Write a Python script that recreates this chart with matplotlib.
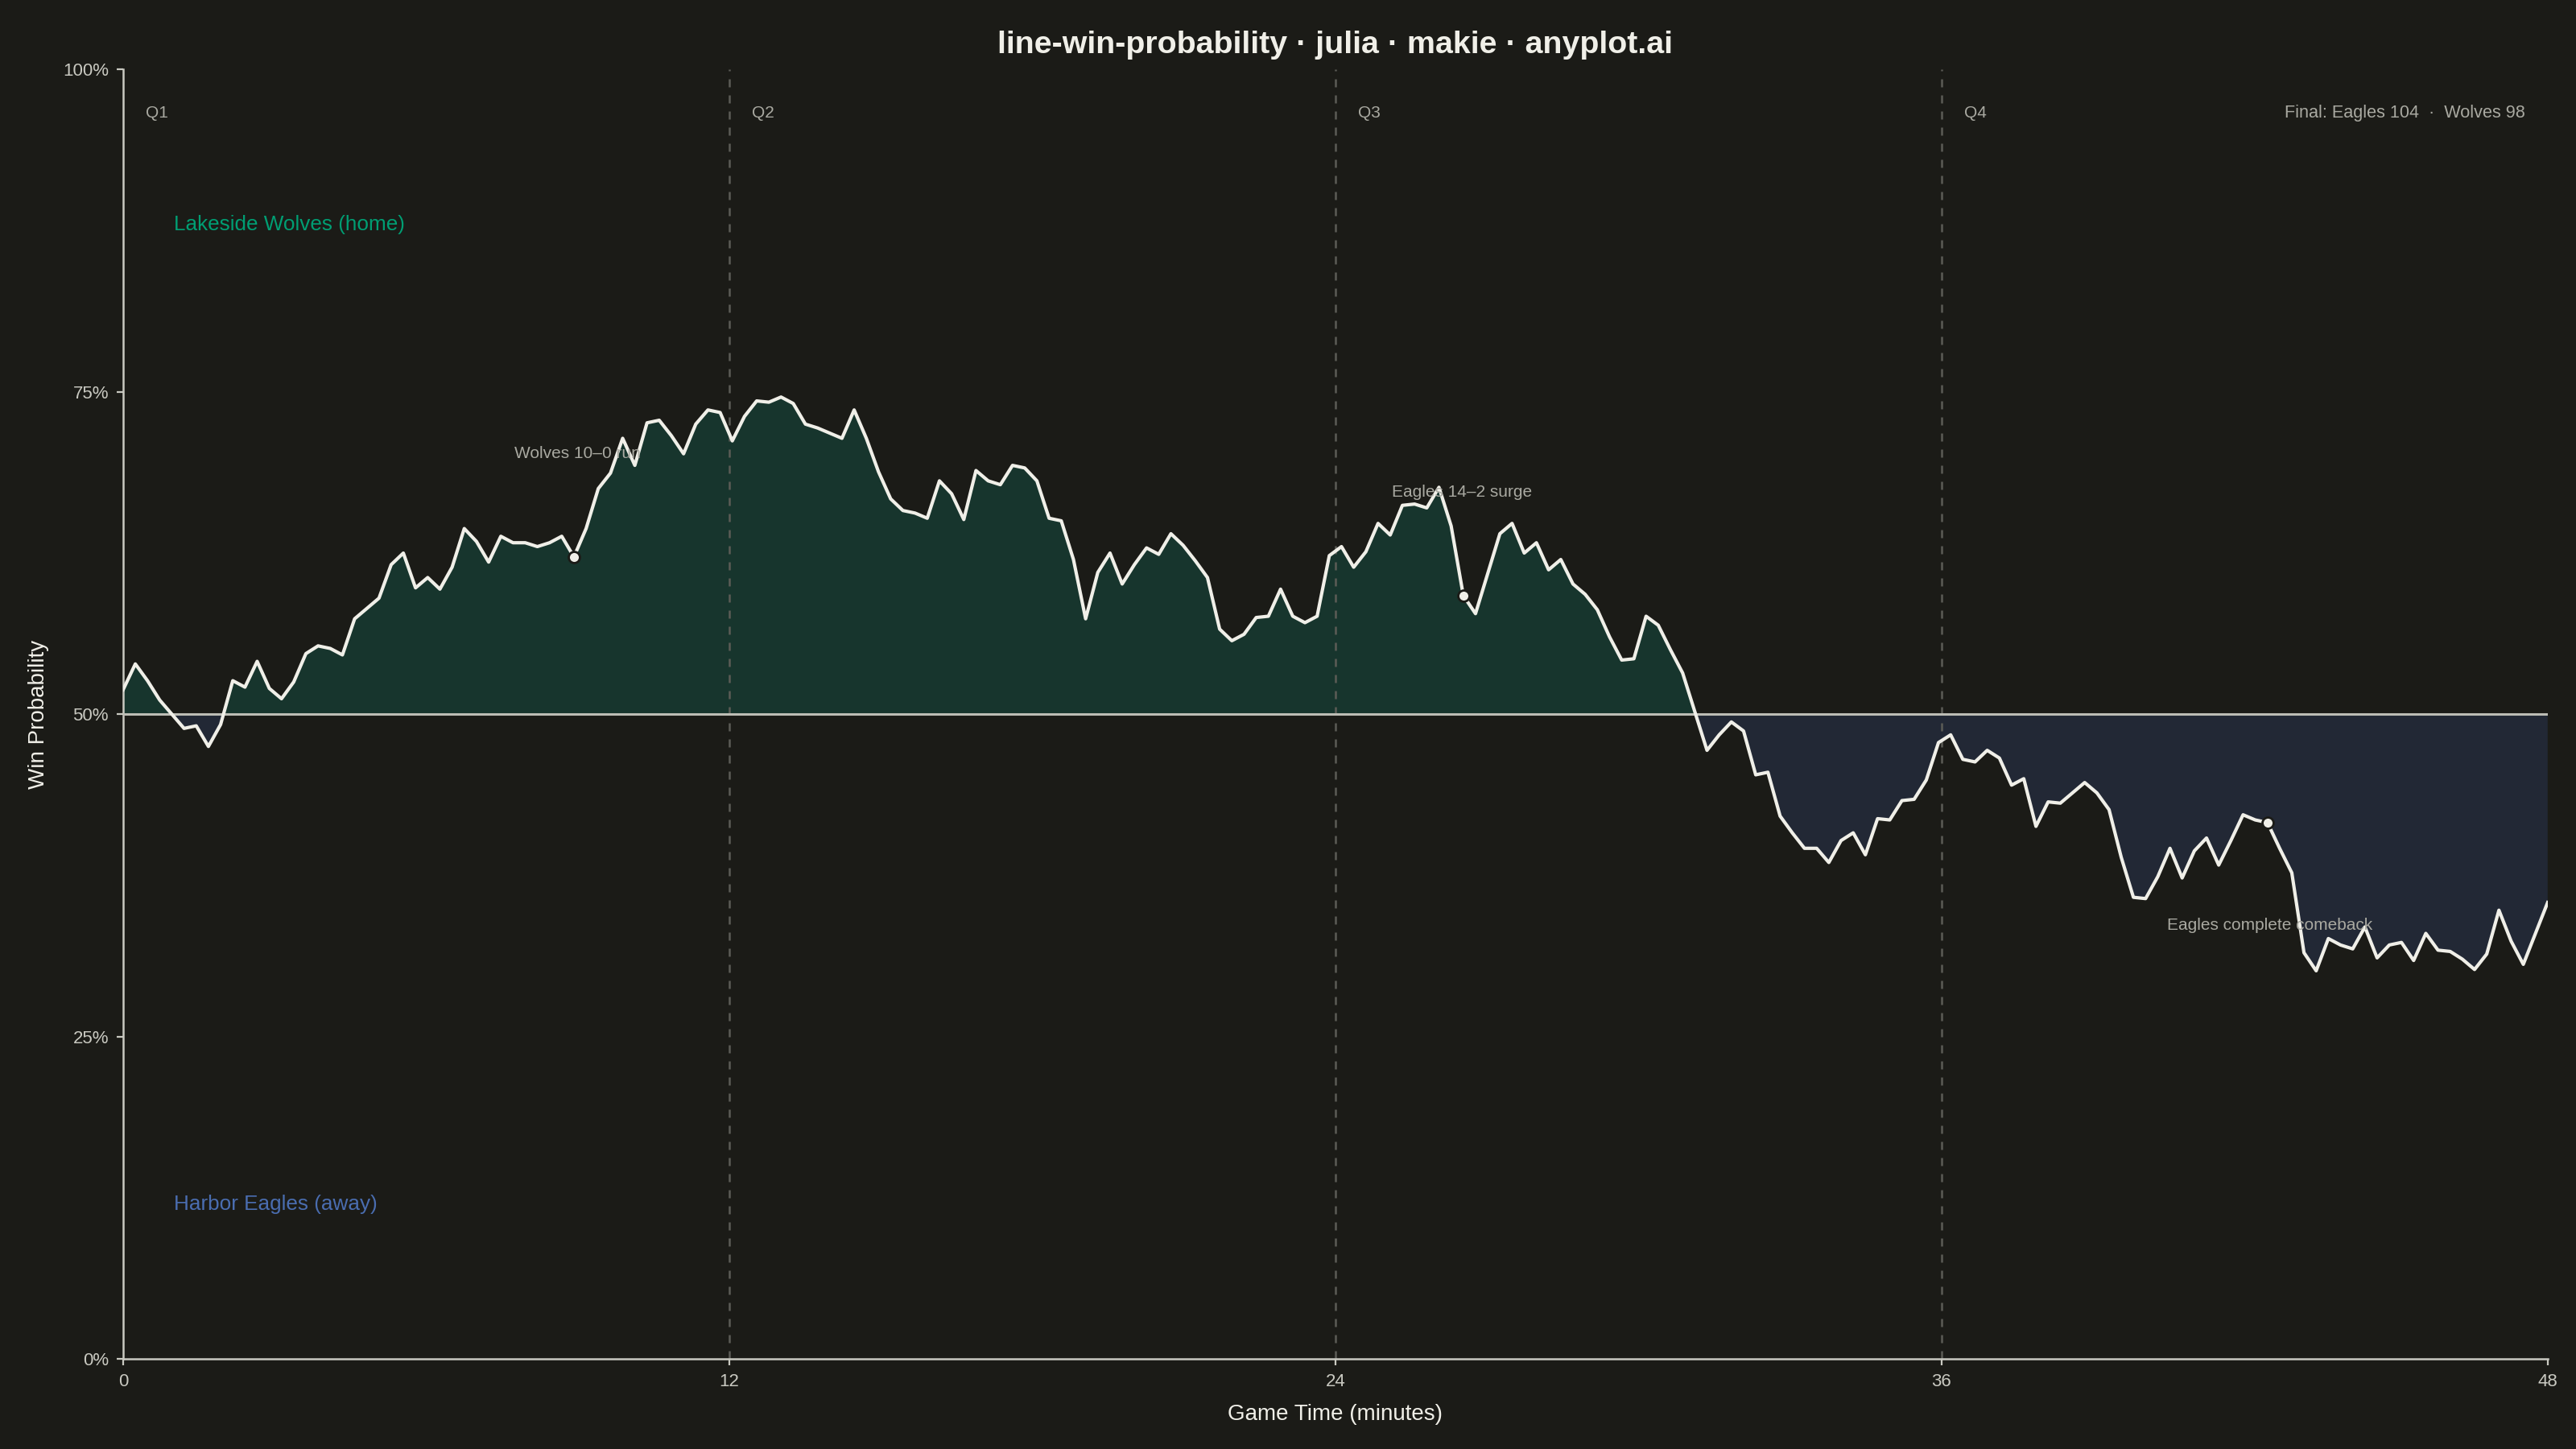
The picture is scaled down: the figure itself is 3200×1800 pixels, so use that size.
import numpy as np
import matplotlib
matplotlib.use("Agg")
import matplotlib.pyplot as plt

# win probability for the home side (Lakeside Wolves), 200 samples over 48 minutes
game_minutes = np.linspace(0, 48, 200)
home_wp = [
    51.9, 53.9, 52.6, 51.1, 50.0, 48.9, 49.1, 47.5, 49.2, 52.6,
    52.1, 54.1, 52.0, 51.2, 52.5, 54.7, 55.3, 55.1, 54.6, 57.4,
    58.2, 59.0, 61.6, 62.5, 59.8, 60.6, 59.7, 61.4, 64.4, 63.4,
    61.8, 63.8, 63.3, 63.3, 63.0, 63.3, 63.8, 62.2, 64.4, 67.5,
    68.7, 71.4, 69.3, 72.6, 72.8, 71.6, 70.2, 72.5, 73.6, 73.4,
    71.2, 73.1, 74.3, 74.2, 74.6, 74.1, 72.5, 72.2, 71.8, 71.4,
    73.6, 71.4, 68.8, 66.7, 65.8, 65.6, 65.2, 68.1, 67.1, 65.1,
    68.9, 68.1, 67.8, 69.3, 69.1, 68.1, 65.2, 65.0, 62.0, 57.4,
    61.0, 62.5, 60.1, 61.6, 62.9, 62.4, 64.0, 63.1, 61.9, 60.6,
    56.6, 55.7, 56.2, 57.5, 57.6, 59.7, 57.6, 57.1, 57.6, 62.3,
    63.0, 61.4, 62.6, 64.8, 63.9, 66.2, 66.3, 66.0, 67.6, 64.6,
    59.2, 57.8, 60.9, 64.0, 64.8, 62.5, 63.3, 61.2, 62.0, 60.1,
    59.3, 58.1, 56.0, 54.2, 54.3, 57.6, 56.9, 55.0, 53.2, 50.2,
    47.2, 48.4, 49.4, 48.7, 45.3, 45.5, 42.1, 40.8, 39.6, 39.6,
    38.5, 40.2, 40.8, 39.1, 41.9, 41.8, 43.3, 43.4, 44.9, 47.8,
    48.4, 46.5, 46.3, 47.2, 46.6, 44.5, 45.0, 41.3, 43.2, 43.1,
    43.9, 44.7, 43.9, 42.6, 38.9, 35.8, 35.7, 37.4, 39.6, 37.3,
    39.4, 40.4, 38.3, 40.2, 42.2, 41.8, 41.6, 39.6, 37.7, 31.5,
    30.1, 32.6, 32.1, 31.8, 33.5, 31.1, 32.1, 32.3, 30.9, 33.0,
    31.7, 31.6, 31.0, 30.2, 31.4, 34.8, 32.4, 30.6, 33.0, 35.4,
]
home_wp = np.array(home_wp)

# key moments
event_minutes = [9.0, 26.5, 42.5]
event_labels = ["Wolves 10\u20130 run", "Eagles 14\u20132 surge", "Eagles complete comeback"]
event_offsets = [8, 8, -8]

quarter_starts = [0, 12, 24, 36]
quarter_labels = ["Q1", "Q2", "Q3", "Q4"]

# colours
bg = "#1b1b17"
ink = "#f0efe8"
soft = "#a9a9a1"
axis_col = "#c9c9c1"
home_col = "#009e73"
away_col = "#4a6db0"
home_fill = "#17352d"
away_fill = "#222835"

plt.rcParams["font.family"] = ["Liberation Sans", "DejaVu Sans"]

fig = plt.figure(figsize=(16, 9), dpi=200, facecolor=bg)
ax_box = [0.0478, 0.0622, 0.9412, 0.8898]
ax = fig.add_axes(ax_box)
ax.set_facecolor(bg)

# shaded areas above / below the 50% line
ax.fill_between(game_minutes, 50, home_wp, where=home_wp >= 50, interpolate=True,
                color=home_fill, lw=0, zorder=1)
ax.fill_between(game_minutes, 50, home_wp, where=home_wp <= 50, interpolate=True,
                color=away_fill, lw=0, zorder=1)

# quarter dividers
for q in quarter_starts[1:]:
    ax.axvline(q, color="#5c5c56", lw=0.9, ls=(0, (4, 4)), zorder=2)

# even-odds line
ax.axhline(50, color="#bdbdb5", lw=1.1, zorder=3)

# probability line
ax.plot(game_minutes, home_wp, color=ink, lw=1.5, zorder=4)

# key moment markers + notes
for t, lab, off in zip(event_minutes, event_labels, event_offsets):
    idx = int(np.argmin(np.abs(game_minutes - t)))
    ax.plot(game_minutes[idx], home_wp[idx], "o", ms=5, mfc=ink, mec=bg, mew=1.0, zorder=5)
    ax.text(t, home_wp[idx] + off, lab, color=soft, fontsize=7.5, ha="center", va="center", zorder=6)

# quarter labels
for q, lab in zip(quarter_starts, quarter_labels):
    ax.text(q + 0.45, 96.6, lab, color=soft, fontsize=7.5, ha="left", va="center")

ax.text(47.55, 96.6, "Final: Eagles 104  \u00b7  Wolves 98", color=soft, fontsize=7.8,
        ha="right", va="center")

# team labels
ax.text(1.0, 88, "Lakeside Wolves (home)", color=home_col, fontsize=9.4, ha="left", va="center")
ax.text(1.0, 12, "Harbor Eagles (away)", color=away_col, fontsize=9.4, ha="left", va="center")

ax.set_xlim(0, 48)
ax.set_ylim(0, 100)
ax.set_xticks([0, 12, 24, 36, 48])
ax.set_yticks([0, 25, 50, 75, 100])
ax.set_yticklabels(["0%", "25%", "50%", "75%", "100%"])

for side in ["top", "right"]:
    ax.spines[side].set_visible(False)
for side in ["left", "bottom"]:
    ax.spines[side].set_color(axis_col)
    ax.spines[side].set_linewidth(0.9)

ax.tick_params(colors=axis_col, labelcolor=axis_col, labelsize=8, length=3, width=0.8)

ax.set_xlabel("Game Time (minutes)", color=ink, fontsize=10, labelpad=6)
ax.set_ylabel("Win Probability", color=ink, fontsize=10, labelpad=6)

# title centred over the plot area
fig.text(ax_box[0] + ax_box[2] / 2, 0.969,
         "line-win-probability \u00b7 julia \u00b7 makie \u00b7 anyplot.ai",
         color=ink, fontsize=14.2, fontweight="bold", ha="center", va="center")

fig.savefig("out.png", dpi=200, facecolor=bg)
